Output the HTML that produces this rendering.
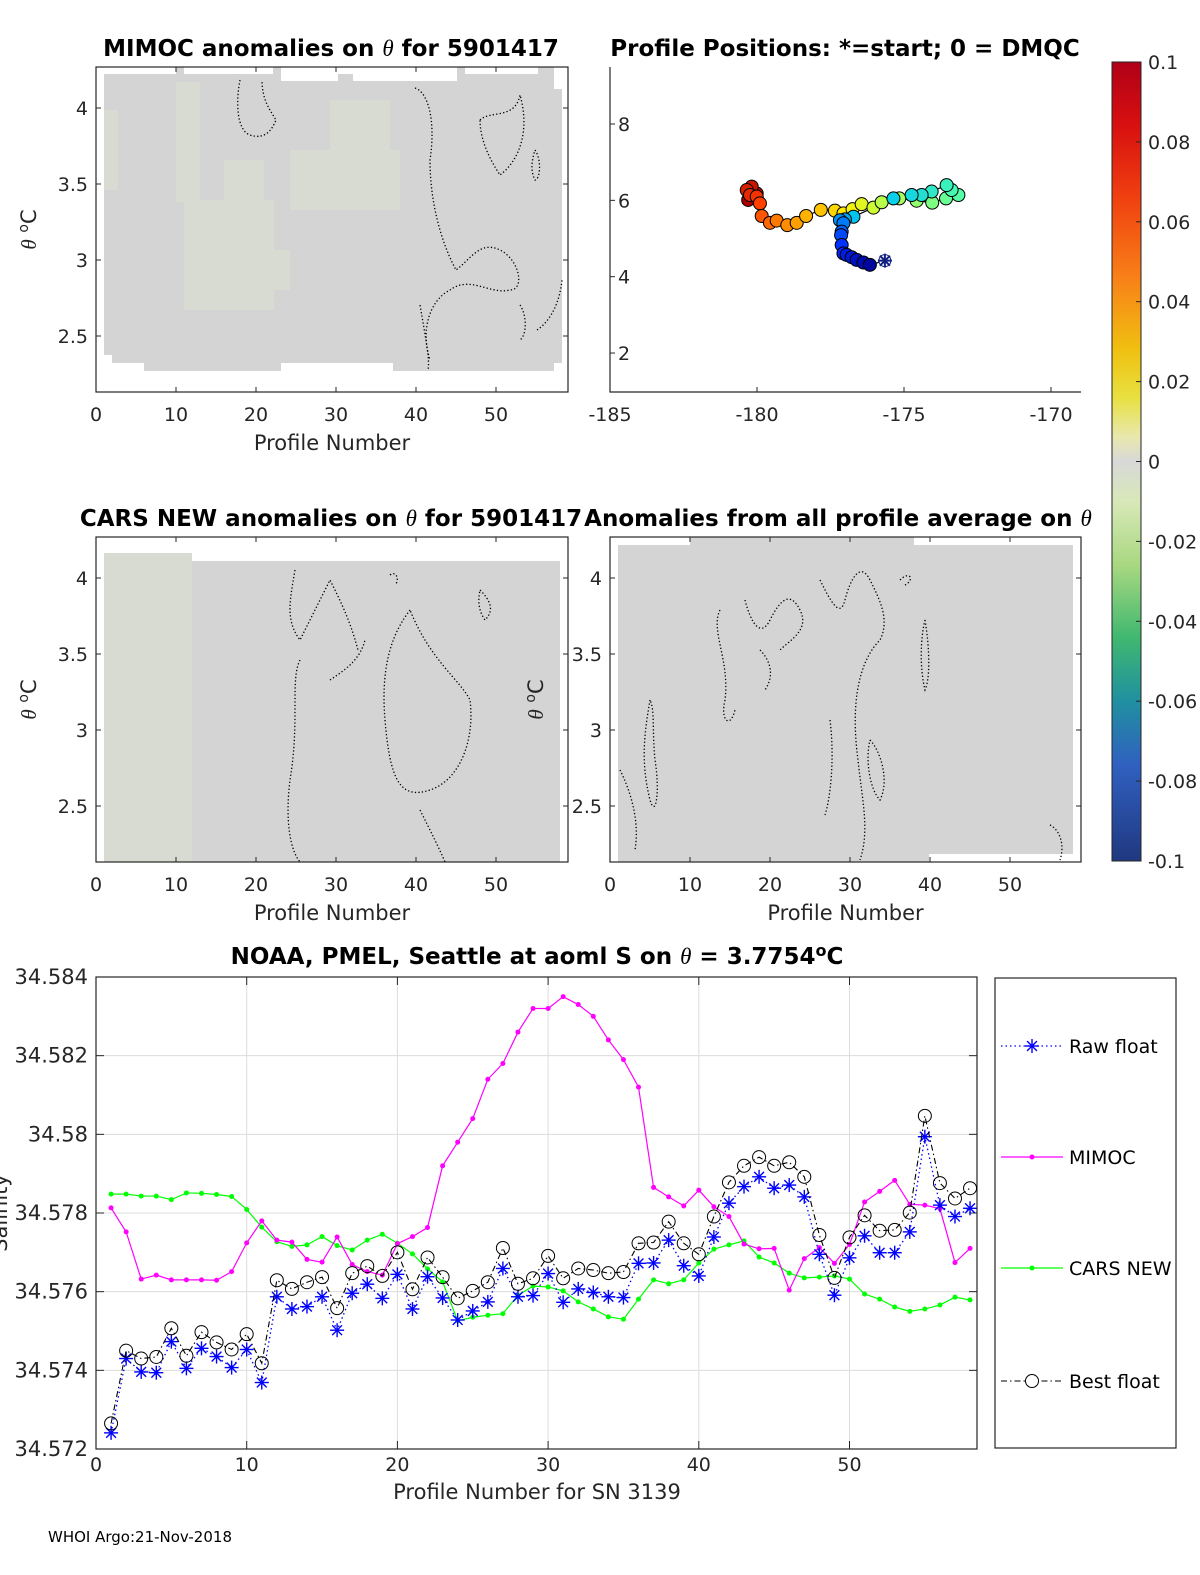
<!DOCTYPE html>
<html><head><meta charset="utf-8">
<style>
html,body{margin:0;padding:0;background:#fff;}
svg{display:block;font-family:"DejaVu Sans","Liberation Sans",sans-serif;}
.tick{font-size:19px;fill:#262626;}
.ttl{font-size:23px;font-weight:bold;fill:#000;}
.lab{font-size:21px;fill:#262626;}
</style></head>
<body>
<svg id="fig" width="1200" height="1575" viewBox="0 0 1200 1575" xmlns="http://www.w3.org/2000/svg">
<defs>
<linearGradient id="cmap" x1="0" y1="0" x2="0" y2="1">
<stop offset="0" stop-color="#b00018"/><stop offset="0.08" stop-color="#d81010"/><stop offset="0.17" stop-color="#f04010"/>
<stop offset="0.27" stop-color="#f88018"/><stop offset="0.36" stop-color="#f0c010"/><stop offset="0.42" stop-color="#e8e040"/>
<stop offset="0.47" stop-color="#e8e8b0"/><stop offset="0.5" stop-color="#d8d8d8"/><stop offset="0.55" stop-color="#d8e8b8"/>
<stop offset="0.63" stop-color="#a8d880"/><stop offset="0.72" stop-color="#40b870"/><stop offset="0.8" stop-color="#2090a0"/>
<stop offset="0.88" stop-color="#3060c0"/><stop offset="1" stop-color="#203880"/>
</linearGradient>
</defs>
<g id="topgroup"></g>
<g id="bottomgroup"></g>
<text x="48" y="1542" style="font-size:15px;fill:#000;">WHOI Argo:21-Nov-2018</text>
</svg>
<script>
const profiles = [1,2,3,4,5,6,7,8,9,10,11,12,13,14,15,16,17,18,19,20,21,22,23,24,25,26,27,28,29,30,31,32,33,34,35,36,37,38,39,40,41,42,43,44,45,46,47,48,49,50,51,52,53,54,55,56,57,58];
const rawFloat = [34.57241,34.5743,34.57396,34.57394,34.57473,34.57405,34.57456,34.57435,34.57407,34.57453,34.57369,34.57587,34.57556,34.57562,34.57587,34.57502,34.57596,34.57619,34.57583,34.57644,34.57556,34.57638,34.57584,34.57528,34.57551,34.57574,34.57659,34.57587,34.5759,34.57646,34.57573,34.57607,34.57598,34.57587,34.57585,34.57672,34.57673,34.57731,34.57666,34.5764,34.57739,34.57825,34.57867,34.57892,34.57863,34.57871,34.57841,34.57695,34.57591,34.57686,34.57742,34.57699,34.57699,34.57752,34.57994,34.5782,34.57791,34.57812];
const bestFloat = [34.57265,34.5745,34.5743,34.57434,34.57507,34.57437,34.57497,34.57471,34.57453,34.57492,34.57418,34.57629,34.57607,34.57624,34.57637,34.57558,34.57647,34.57665,34.5764,34.577,34.57606,34.57687,34.57637,34.57583,34.57602,34.57624,34.57711,34.5762,34.57634,34.57691,34.57634,34.57659,34.57655,34.57647,34.5765,34.57723,34.57725,34.57778,34.57723,34.57695,34.57791,34.57878,34.5792,34.57942,34.5792,34.57929,34.57892,34.57744,34.57635,34.57738,34.57794,34.57755,34.57757,34.57801,34.58047,34.57876,34.57837,34.57863];
const mimoc = [34.57813,34.57752,34.57632,34.57642,34.5763,34.5763,34.5763,34.57629,34.57651,34.57724,34.5778,34.57731,34.57726,34.57682,34.57675,34.57739,34.57669,34.57651,34.57642,34.57722,34.5774,34.57763,34.5792,34.5798,34.5804,34.5814,34.5818,34.5826,34.5832,34.5832,34.5835,34.5833,34.583,34.5824,34.5819,34.5812,34.57865,34.57841,34.57818,34.57858,34.57816,34.57791,34.57721,34.57709,34.5771,34.57604,34.57684,34.57712,34.57672,34.5772,34.57828,34.57855,34.57883,34.57822,34.5782,34.57811,34.57674,34.5771];
const carsNew = [34.57848,34.57848,34.57843,34.57843,34.57834,34.57851,34.5785,34.57847,34.57842,34.57809,34.57764,34.57727,34.57715,34.57719,34.5774,34.57717,34.57706,34.57731,34.57746,34.57723,34.57696,34.57658,34.57625,34.57526,34.57535,34.5754,34.57544,34.57591,34.57614,34.57612,34.57602,34.57574,34.57556,34.57536,34.5753,34.57581,34.5763,34.5762,34.5763,34.57673,34.57708,34.57719,34.57729,34.57688,34.57673,34.57647,34.57635,34.57637,34.5764,34.57632,34.57594,34.57581,34.57561,34.5755,34.57556,34.57566,34.57586,34.57579];
const yTicks = [34.572,34.574,34.576,34.578,34.58,34.582,34.584];
const yTickLabels = ["34.572","34.574","34.576","34.578","34.58","34.582","34.584"];
const xTicks = [0,10,20,30,40,50];
const trackLon = [-175.65,-176.16,-176.38,-176.61,-176.78,-176.95,-177.06,-177.12,-177.14,-177.12,-177.06,-177.18,-177.01,-176.72,-175.36,-174.74,-174.40,-174.06,-173.55,-173.38,-173.15,-173.57,-174.04,-174.57,-175.16,-175.76,-176.04,-176.44,-176.75,-177.06,-177.35,-177.83,-178.33,-178.65,-178.97,-179.33,-179.56,-179.84,-179.90,-180.01,-180.24,-180.35,-180.18,-180.01,-180.30];
const trackLat = [4.42,4.31,4.37,4.44,4.51,4.57,4.61,4.83,5.09,5.18,5.40,5.48,5.50,5.57,6.05,6.14,6.14,6.23,6.40,6.27,6.14,6.05,5.94,5.99,6.05,5.95,5.81,5.90,5.77,5.66,5.73,5.75,5.59,5.41,5.35,5.47,5.41,5.59,5.92,6.10,6.14,6.27,6.36,6.18,6.01];
const lonTicks = [-185,-180,-175,-170];
const latTicks = [2,4,6,8];
const cbTicks = [0.1,0.08,0.06,0.04,0.02,0,-0.02,-0.04,-0.06,-0.08,-0.1];
const thetaTicks = [2.5,3,3.5,4];
const NS = "http://www.w3.org/2000/svg";
function mk(parent, tag, attrs, txt){
  const e = document.createElementNS(NS, tag);
  for (const k in attrs) e.setAttribute(k, attrs[k]);
  if (txt !== undefined) e.textContent = txt;
  parent.appendChild(e); return e;
}
const topG = document.getElementById('topgroup');
const botG = document.getElementById('bottomgroup');

function thetaPanel(name, x0, y0, x1, y1, title, titleX, showYLabel, fillPts, tint, contours, yLabelX){
  const g = mk(topG,'g',{});
  
  
  const fp = mk(g,'polygon',{points:fillPts, fill:'#d4d4d4'});
  
  
  tint.forEach(r=>{ const t=mk(g,'rect',{x:r[0],y:r[1],width:r[2],height:r[3],fill:'#d7dbd1'});
    
     });
  contours.forEach(d=>{ const c=mk(g,'path',{d:d,fill:'none',stroke:'#000','stroke-width':1.3,'stroke-dasharray':'1.3 2.2'});
    
     });
  const fr = mk(g,'rect',{x:x0,y:y0,width:x1-x0,height:y1-y0,fill:'none',stroke:'#262626','stroke-width':1.2});
  
  
  const px = p => x0 + p*8;
  const ty = t => (y0+41) + (4-t)*152;
  xTicks.forEach(t=>{
    const X = px(t);
    mk(g,'line',{x1:X,y1:y1,x2:X,y2:y1-5,stroke:'#262626'});
    mk(g,'line',{x1:X,y1:y0,x2:X,y2:y0+5,stroke:'#262626'});
    const l = mk(g,'text',{x:X,y:y1+29,'text-anchor':'middle',class:'tick'}, String(t));
    
    
  });
  thetaTicks.forEach(t=>{
    const Y = ty(t);
    mk(g,'line',{x1:x0,y1:Y,x2:x0+5,y2:Y,stroke:'#262626'});
    mk(g,'line',{x1:x1,y1:Y,x2:x1-5,y2:Y,stroke:'#262626'});
    const l = mk(g,'text',{x:x0-8,y:Y+7,'text-anchor':'end',class:'tick'}, String(t));
    
    
  });
  const tt = mk(g,'text',{x:titleX,y:y0-11,'text-anchor':'middle',class:'ttl'});
  tt.innerHTML = title;
  
  
  const xl = mk(g,'text',{x:(x0+x1)/2,y:y1+58,'text-anchor':'middle',class:'lab'},'Profile Number');
  
  
  if (showYLabel){
    const yl = mk(g,'text',{transform:`translate(${yLabelX},${(y0+y1)/2}) rotate(-90)`,'text-anchor':'middle',class:'lab'});
    yl.innerHTML = '<tspan font-style="italic" font-family="Liberation Serif,serif">θ</tspan> <tspan dy="-8" font-size="14">o</tspan><tspan dy="8">C</tspan>';
    
    
  }
}
const th = '<tspan font-style="italic" font-weight="normal" font-family="Liberation Serif,serif">θ</tspan>';
thetaPanel('mimoc-panel',96,67,568,392,'MIMOC anomalies on '+th+'  for 5901417',331,true,
 '104,74 176,74 176,67 184,67 184,74 273,74 273,67 281,67 281,81 338,81 338,74 353,74 353,81 457,81 457,67 465,67 465,74 538,74 538,67 554,67 554,89 562,89 562,363 554,363 554,371 393,371 393,363 281,363 281,371 144,371 144,363 112,363 112,355 104,355',
 [[104,110,14,80],[176,82,24,120],[184,200,90,110],[224,160,40,50],[290,150,110,60],[330,100,60,90],[240,250,50,40]],
 ['M240,80 C236,100 236,130 250,135 C265,140 272,130 276,120 C270,110 262,100 262,80',
  'M415,88 C428,92 436,120 430,160 C430,200 440,240 456,270 C470,260 480,240 500,250 C520,260 525,290 510,290 C490,295 470,275 450,290 C430,300 420,330 430,360',
  'M480,120 C490,110 515,120 520,95 C530,130 520,160 500,175 C490,160 480,140 480,120',
  'M420,305 C426,340 430,360 428,370','M535,150 C542,160 540,180 535,180 C530,170 532,160 535,150',
  'M537,330 C552,320 560,300 562,280','M520,305 C527,315 527,335 520,340'],36);
thetaPanel('cars-panel',96,537,568,862,'CARS NEW anomalies on '+th+' for 5901417',331,true,
 '104,553 152,553 152,561 560,561 560,862 104,862',
 [[104,553,88,309]],
 ['M295,570 C290,600 285,620 300,640 C310,620 320,600 330,580 C340,600 350,620 358,650',
  'M300,660 C290,680 300,720 290,780 C285,820 290,850 300,862',
  'M410,610 C395,630 380,660 385,720 C390,780 400,800 430,790 C460,780 475,740 470,700 C460,680 430,660 410,610',
  'M330,680 C345,670 360,660 365,640','M480,590 C490,600 495,610 485,620 C478,610 478,600 480,590',
  'M390,575 C396,570 400,580 395,585','M420,810 C430,830 440,850 445,862'],36);
thetaPanel('avg-panel',610,537,1081,862,'Anomalies from all profile average on '+th,838,true,
 '618,545 690,545 690,537 914,537 914,545 1073,545 1073,854 929,854 929,862 618,862',
 [],
 ['M650,700 C645,730 640,760 650,800 C656,820 660,790 655,760 C652,730 655,710 650,700',
  'M720,610 C710,630 730,660 725,700 C720,720 730,730 735,710',
  'M745,600 C750,620 760,640 770,620 C780,600 790,590 800,610 C810,630 790,640 780,650',
  'M820,580 C830,600 840,620 845,600 C850,580 860,560 870,580 C880,600 890,620 880,640 C860,660 850,700 858,760 C862,800 870,830 860,860',
  'M900,580 C910,570 915,580 905,585','M925,620 C930,650 930,680 925,690 C920,670 920,640 925,620',
  'M870,740 C880,750 890,780 880,800 C870,790 865,760 870,740','M620,770 C630,790 640,820 635,850',
  'M830,720 C835,760 830,800 825,815','M1050,825 C1060,830 1065,845 1060,860','M760,650 C770,660 775,675 765,690'],543);

(function(){
  const g = mk(topG,'g',{});
  
  
  const x0=610,y0=67,x1=1081,y1=392;
  const lx = lon => x0 + (lon+185)*29.4;
  const ly = lat => 124 + (8-lat)*38.17;
  const ax = mk(g,'path',{d:`M${x0},${y0} L${x0},${y1} L${x1},${y1}`,fill:'none',stroke:'#262626','stroke-width':1.2});
  
  
  lonTicks.forEach(t=>{ const X=lx(t);
    mk(g,'line',{x1:X,y1:y1,x2:X,y2:y1-5,stroke:'#262626'});
    const l=mk(g,'text',{x:X,y:y1+29,'text-anchor':'middle',class:'tick'},String(t));
    
     });
  latTicks.forEach(t=>{ const Y=ly(t);
    mk(g,'line',{x1:x0,y1:Y,x2:x0+5,y2:Y,stroke:'#262626'});
    const l=mk(g,'text',{x:x0+8,y:Y+7,class:'tick'},String(t));
    
     });
  const tt=mk(g,'text',{x:845,y:56,'text-anchor':'middle',class:'ttl'},'Profile Positions: *=start; 0 = DMQC');
  
  
  const pts = trackLon.map((lon,i)=>lx(lon)+','+ly(trackLat[i])).join(' ');
  const pl = mk(g,'polyline',{points:pts,fill:'none',stroke:'#000','stroke-width':1.2});
  
  
  function jet(f){
    const stops=[[0,[0,0,140]],[0.15,[0,40,255]],[0.3,[0,200,240]],[0.45,[80,255,170]],[0.55,[170,255,90]],[0.65,[255,240,0]],[0.75,[255,160,0]],[0.87,[255,60,0]],[1,[170,0,0]]];
    for(let i=1;i<stops.length;i++){ if(f<=stops[i][0]){ const a=stops[i-1],b=stops[i],t=(f-a[0])/(b[0]-a[0]);
      return 'rgb('+a[1].map((v,k)=>Math.round(v+(b[1][k]-v)*t)).join(',')+')'; } }
    return 'rgb(170,0,0)';
  }
  const n = trackLon.length;
  for(let i=n-1;i>=1;i--){
    const c = mk(g,'circle',{cx:lx(trackLon[i]),cy:ly(trackLat[i]),r:6.5,fill:jet(i/(n-1)),stroke:'#000','stroke-width':1});
    
    
  }
  const sx=lx(trackLon[0]), sy=ly(trackLat[0]);
  const st = mk(g,'g',{});
  
  
  mk(st,'circle',{cx:sx,cy:sy,r:6,fill:'#fff',stroke:'#102080','stroke-width':1});
  [[0,7],[7,0],[5,5],[5,-5]].forEach(d=>mk(st,'line',{x1:sx-d[0],y1:sy-d[1],x2:sx+d[0],y2:sy+d[1],stroke:'#102080','stroke-width':2}));
})();

(function(){
  const g = mk(topG,'g',{});
  
  
  const y0=62,y1=861;
  mk(g,'rect',{x:1112,y:y0,width:29,height:y1-y0,fill:'url(#cmap)',stroke:'#262626','stroke-width':1});
  const cy = v => y0 + (0.1-v)/0.2*(y1-y0);
  cbTicks.forEach(t=>{ const Y=cy(t);
    mk(g,'line',{x1:1136,y1:Y,x2:1141,y2:Y,stroke:'#262626'});
    const l=mk(g,'text',{x:1148,y:Y+7,class:'tick'}, (Math.abs(t)<1e-9)?'0':String(t));
    
     });
})();

(function(){
  const x0=96,x1=977,y0=977,y1=1449;
  const sx = p => x0 + p*15.07;
  const sy = v => y1 - (v-34.572)/0.012*(y1-y0);
  const g = botG;
  
  
  mk(g,'rect',{x:x0,y:y0,width:x1-x0,height:y1-y0,fill:'#fff'});
  xTicks.forEach(t=>{ const X=sx(t);
    const gl=mk(g,'line',{x1:X,y1:y0,x2:X,y2:y1,stroke:'#dcdcdc','stroke-width':1});
    
    
    mk(g,'line',{x1:X,y1:y1,x2:X,y2:y1-8,stroke:'#262626'});
    mk(g,'line',{x1:X,y1:y0,x2:X,y2:y0+8,stroke:'#262626'});
    const l=mk(g,'text',{x:X,y:y1+22,'text-anchor':'middle',class:'tick'},String(t));
    
     });
  yTicks.forEach((t,i)=>{ const Y=sy(t);
    const gl=mk(g,'line',{x1:x0,y1:Y,x2:x1,y2:Y,stroke:'#dcdcdc','stroke-width':1});
    
    
    mk(g,'line',{x1:x0,y1:Y,x2:x0+8,y2:Y,stroke:'#262626'});
    mk(g,'line',{x1:x1,y1:Y,x2:x1-8,y2:Y,stroke:'#262626'});
    const l=mk(g,'text',{x:x0-8,y:Y+7,'text-anchor':'end',class:'tick',style:'font-size:21px'},yTickLabels[i]);
    
     });
  const fr=mk(g,'rect',{x:x0,y:y0,width:x1-x0,height:y1-y0,fill:'none',stroke:'#262626','stroke-width':1.2});
  
  
  function pts(arr){ return arr.map((v,i)=>sx(profiles[i])+','+sy(v)).join(' '); }
  const cl=mk(g,'polyline',{points:pts(carsNew),fill:'none',stroke:'#00ff00','stroke-width':1.2});
  
  
  carsNew.forEach((v,i)=>{ const c=mk(g,'circle',{cx:sx(profiles[i]),cy:sy(v),r:2.5,fill:'#00ff00'});
    
     });
  const ml=mk(g,'polyline',{points:pts(mimoc),fill:'none',stroke:'#ff00ff','stroke-width':1.2});
  
  
  mimoc.forEach((v,i)=>{ const c=mk(g,'circle',{cx:sx(profiles[i]),cy:sy(v),r:2.5,fill:'#ff00ff'});
    
     });
  const rl=mk(g,'polyline',{points:pts(rawFloat),fill:'none',stroke:'#0000ff','stroke-width':1.3,'stroke-dasharray':'1.5 3'});
  
  
  function star(parent,X,Y,s){
    const sg=mk(parent,'g',{stroke:'#0000ff','stroke-width':1.4});
    mk(sg,'line',{x1:X-s,y1:Y,x2:X+s,y2:Y}); mk(sg,'line',{x1:X,y1:Y-s,x2:X,y2:Y+s});
    mk(sg,'line',{x1:X-s*0.7,y1:Y-s*0.7,x2:X+s*0.7,y2:Y+s*0.7}); mk(sg,'line',{x1:X-s*0.7,y1:Y+s*0.7,x2:X+s*0.7,y2:Y-s*0.7});
    return sg;
  }
  rawFloat.forEach((v,i)=>{ const s=star(g,sx(profiles[i]),sy(v),7);
    
     });
  const bl=mk(g,'polyline',{points:pts(bestFloat),fill:'none',stroke:'#000','stroke-width':1.1,'stroke-dasharray':'6 3 1.5 3'});
  
  
  bestFloat.forEach((v,i)=>{ const c=mk(g,'circle',{cx:sx(profiles[i]),cy:sy(v),r:6.5,fill:'none',stroke:'#000','stroke-width':1});
    
     });
  const tt=mk(g,'text',{x:537,y:964,'text-anchor':'middle',class:'ttl'});
  tt.innerHTML='NOAA, PMEL, Seattle at aoml S on '+th+' = 3.7754<tspan dy="-8" font-size="16">o</tspan><tspan dy="8">C</tspan>';
  
  
  const xl=mk(g,'text',{x:537,y:1499,'text-anchor':'middle',class:'lab'},'Profile Number for SN 3139');
  
  
  const yl=mk(g,'text',{transform:'translate(7,1213) rotate(-90)','text-anchor':'middle',class:'lab'},'Salinity');
  
  
  const lg=mk(g,'g',{});
  
  
  mk(lg,'rect',{x:995,y:978,width:181,height:470,fill:'#fff',stroke:'#262626','stroke-width':1.2});
  const entries=[['Raw float',1046],['MIMOC',1157],['CARS NEW',1268],['Best float',1381]];
  entries.forEach((e,i)=>{
    const eg=mk(lg,'g',{});
    
    
    const Y=e[1];
    if(i===0){ mk(eg,'line',{x1:1001,y1:Y,x2:1063,y2:Y,stroke:'#0000ff','stroke-width':1.3,'stroke-dasharray':'1.5 3'}); star(eg,1032,Y,7); }
    if(i===1){ mk(eg,'line',{x1:1001,y1:Y,x2:1063,y2:Y,stroke:'#ff00ff','stroke-width':1.2}); mk(eg,'circle',{cx:1032,cy:Y,r:2.5,fill:'#ff00ff'}); }
    if(i===2){ mk(eg,'line',{x1:1001,y1:Y,x2:1063,y2:Y,stroke:'#00ff00','stroke-width':1.2}); mk(eg,'circle',{cx:1032,cy:Y,r:2.5,fill:'#00ff00'}); }
    if(i===3){ mk(eg,'line',{x1:1001,y1:Y,x2:1063,y2:Y,stroke:'#000','stroke-width':1.1,'stroke-dasharray':'6 3 1.5 3'}); mk(eg,'circle',{cx:1032,cy:Y,r:6.5,fill:'#fff',stroke:'#000'}); }
    mk(eg,'text',{x:1069,y:Y+7,style:'font-size:19px;fill:#000'},e[0]);
  });
})();
</script>
</body></html>
